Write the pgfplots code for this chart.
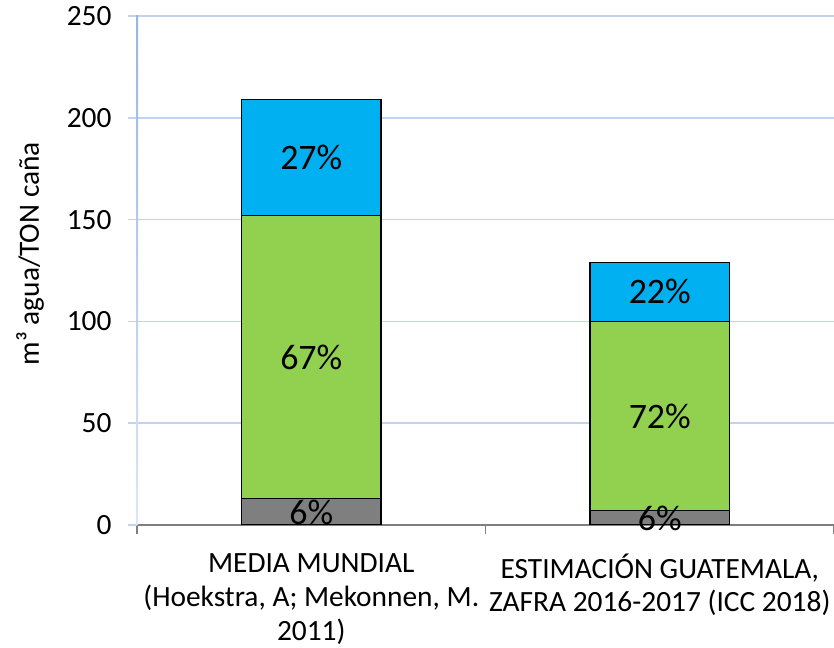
\documentclass[border=0pt]{standalone}
\usepackage{pgfplots}
\pgfplotsset{compat=1.18}
\usepackage{fontspec}
\setmainfont{Carlito}
\definecolor{cgrey}{HTML}{7F7F7F}
\definecolor{cgreen}{HTML}{92D050}
\definecolor{cblue}{HTML}{00B0F0}
\definecolor{gridblue}{HTML}{C3D2EF}
\definecolor{ytop}{HTML}{9AB4E4}
\definecolor{ybot}{HTML}{DCE6F5}
\definecolor{axisgrey}{HTML}{7F7F7F}
\begin{document}
\begin{tikzpicture}
\path[use as bounding box] (0,0) rectangle (834bp,648bp);
\begin{axis}[
  at={(137bp,123bp)}, anchor=south west,
  scale only axis, width=697bp, height=509bp,
  xmin=-0.5, xmax=1.5, ymin=0, ymax=250,
  ybar stacked, bar width=0.4,
  axis x line*=bottom, axis y line*=left,
  x axis line style={draw=axisgrey, line width=1.5bp, -},
  y axis line style={draw=none, -},
  xtick={-0.5,0.5,1.5}, xticklabels={},
  ytick={0,50,100,150,200,250},
  tick align=outside, major tick length=9bp,
  xtick style={draw=axisgrey, line width=1.5bp},
  ytick style={draw=gridblue, line width=1.5bp},
  ymajorgrids, grid style={draw=gridblue, line width=1.5bp},
  extra x ticks={0,1},
  extra x tick labels={{MEDIA MUNDIAL\\(Hoekstra, A; Mekonnen, M.\\2011)},{ESTIMACIÓN GUATEMALA,\\ZAFRA 2016-2017 (ICC 2018)}},
  extra x tick style={major tick length=0pt, grid=none},
  xticklabel style={align=center, font=\fontsize{29.5}{34}\selectfont, anchor=north, yshift=-25bp},
  yticklabel style={font=\fontsize{29.5}{30}\selectfont, xshift=-13bp},
  /pgf/number format/assume math mode=true,
  ylabel={m³ agua/TON caña},
  ylabel style={font=\fontsize{29.5}{30}\selectfont, at={(axis description cs:-0.1535,0.533)}, anchor=center},
]
\addplot[fill=cgrey, draw=black, line width=1.3bp] coordinates {(0,13) (1,7)};
\addplot[fill=cgreen, draw=black, line width=1.3bp] coordinates {(0,139) (1,93)};
\addplot[fill=cblue, draw=black, line width=1.3bp] coordinates {(0,57) (1,29)};
\coordinate (l1) at (axis cs:0,180.5);
\coordinate (l2) at (axis cs:0,82.5);
\coordinate (l3) at (axis cs:0,6);
\coordinate (l4) at (axis cs:1,114.5);
\coordinate (l5) at (axis cs:1,53.5);
\coordinate (l6) at (axis cs:1,3);
\coordinate (yb) at (rel axis cs:0,0);
\coordinate (yt) at (rel axis cs:0,1);
\end{axis}
\shade[top color=ytop, bottom color=ybot] ([xshift=-1bp]yb) rectangle ([xshift=1bp]yt);
\begin{scope}[every node/.style={font=\fontsize{36}{36}\selectfont}]
\node at (l1) {27\%};
\node at (l2) {67\%};
\node at (l3) {6\%};
\node at (l4) {22\%};
\node at (l5) {72\%};
\node at (l6) {6\%};
\end{scope}
\end{tikzpicture}
\end{document}
